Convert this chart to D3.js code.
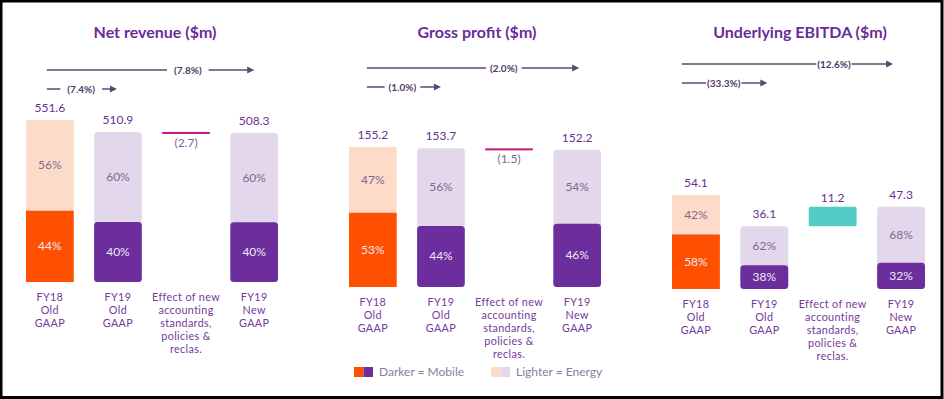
<!DOCTYPE html>
<html>
<head>
<meta charset="utf-8">
<script src="https://cdn.jsdelivr.net/npm/d3@7"></script>
<style>
  html, body { margin: 0; padding: 0; background: #fff; }
  svg { display: block; font-family: Lato, "Open Sans", sans-serif; }
</style>
</head>
<body>
<svg id="chart" width="944" height="399"></svg>
<script>
// ---------------- DATA ----------------
const titles = ["Net revenue ($m)", "Gross profit ($m)", "Underlying EBITDA ($m)"];
const categories = [
  ["FY18", "Old", "GAAP"],
  ["FY19", "Old", "GAAP"],
  ["Effect of new", "accounting", "standards,", "policies &", "reclas."],
  ["FY19", "New", "GAAP"]
];
const fy18Old = [551.6, 155.2, 54.1];
const fy19Old = [510.9, 153.7, 36.1];
const fy19New = [508.3, 152.2, 47.3];
const effect = [-2.7, -1.5, 11.2];
const effectLabels = ["(2.7)", "(1.5)", "11.2"];
const mobileShare = [[44, 40, 40], [53, 44, 46], [58, 38, 32]];
const energyShare = [[56, 60, 60], [47, 56, 54], [42, 62, 68]];
const growthLong = ["(7.8%)", "(2.0%)", "(12.6%)"];
const growthShort = ["(7.4%)", "(1.0%)", "(33.3%)"];
const legendItems = ["Darker = Mobile", "Lighter = Energy"];

// ---------------- STYLE / LAYOUT ----------------
const C = {
  orange: "#fe5000", peach: "#fddbc9",
  purple: "#6c2e9c", lilac: "#e3d7ec",
  teal: "#52ccc6", magenta: "#c2187f",
  title: "#6a2c9a", value: "#6b2f8f", cat: "#74399b",
  pctLight: "#7d6a8f", pctDark: "#efe7f6",
  arrow: "#5e4772", arrowText: "#4f3a66", legend: "#8b7c9b"
};
const panels = [
  { x0: 26, x1: 278, base: 282, top: 120, titleX: 155, yLong: 70, yShort: 89,
    startNudge: -3, endNudge: [0, -1], frac: [0.68, 0.49], pad: 7 },
  { x0: 349, x1: 601, base: 287, top: 147, titleX: 477, yLong: 68, yShort: 87,
    startNudge: -6, endNudge: [2, 0], frac: [0.645, 0.48], pad: 4 },
  { x0: 672, x1: 925, base: 289, top: 195, titleX: 800, yLong: 64, yShort: 83,
    startNudge: -14, endNudge: [-8, 3], frac: [0.72, 0.49], pad: 1 }
];

const svg = d3.select("#chart");

// border frame
svg.append("rect").attr("x", 1).attr("y", 1).attr("width", 941).attr("height", 396.5)
  .attr("fill", "none").attr("stroke", "#000").attr("stroke-width", 3);

panels.forEach((P, pi) => {
  const g = svg.append("g");
  const x = d3.scaleBand().domain(d3.range(categories.length)).range([P.x0, P.x1])
    .paddingInner(0.3).paddingOuter(0);
  const y = d3.scaleLinear().domain([0, fy18Old[pi]]).range([P.base, P.top]);
  const bw = x.bandwidth();
  const cx = i => x(i) + bw / 2;

  // title
  g.append("text").attr("x", P.titleX).attr("y", 38).attr("text-anchor", "middle")
    .attr("font-size", 16).attr("font-weight", 700).attr("fill", C.title)
    .text(titles[pi]);

  // stacked total bars
  const totals = [
    { i: 0, v: fy18Old[pi], s: 0, old: true },
    { i: 1, v: fy19Old[pi], s: 1, old: false },
    { i: 3, v: fy19New[pi], s: 2, old: false }
  ];
  totals.forEach(d => {
    const mob = d.v * mobileShare[pi][d.s] / 100;
    const rx = d.old ? 0 : 3.5;
    g.append("rect").attr("x", x(d.i)).attr("y", y(d.v)).attr("width", bw)
      .attr("height", y(0) - y(d.v)).attr("rx", rx)
      .attr("fill", d.old ? C.peach : C.lilac);
    g.append("rect").attr("x", x(d.i)).attr("y", y(mob)).attr("width", bw)
      .attr("height", y(0) - y(mob)).attr("rx", rx)
      .attr("fill", d.old ? C.orange : C.purple);
    g.append("text").attr("x", cx(d.i)).attr("y", (y(d.v) + y(mob)) / 2 + 4)
      .attr("text-anchor", "middle").attr("font-size", 12).attr("fill", C.pctLight)
      .text(energyShare[pi][d.s] + "%");
    g.append("text").attr("x", cx(d.i)).attr("y", (y(mob) + y(0)) / 2 + 4)
      .attr("text-anchor", "middle").attr("font-size", 12).attr("fill", C.pctDark)
      .text(mobileShare[pi][d.s] + "%");
    g.append("text").attr("x", cx(d.i)).attr("y", y(d.v) - 8)
      .attr("text-anchor", "middle").attr("font-size", 12).attr("fill", C.value)
      .text(d3.format(".1f")(d.v));
  });

  // effect bar
  const a = fy19Old[pi], b = fy19Old[pi] + effect[pi];
  if (effect[pi] < 0) {
    const h = Math.max(2, y(b) - y(a));
    g.append("rect").attr("x", x(2)).attr("y", y(a)).attr("width", bw).attr("height", h)
      .attr("fill", C.magenta);
    g.append("text").attr("x", cx(2)).attr("y", y(a) + h + 13)
      .attr("text-anchor", "middle").attr("font-size", 12).attr("fill", C.pctLight)
      .text(effectLabels[pi]);
  } else {
    g.append("rect").attr("x", x(2)).attr("y", y(b)).attr("width", bw)
      .attr("height", y(a) - y(b)).attr("rx", 1.5).attr("fill", C.teal);
    g.append("text").attr("x", cx(2)).attr("y", y(b) - 5)
      .attr("text-anchor", "middle").attr("font-size", 12).attr("fill", C.value)
      .text(effectLabels[pi]);
  }

  // category labels: one text per line
  categories.forEach((lines, i) => {
    lines.forEach((ln, k) => {
      g.append("text").attr("x", cx(i)).attr("y", P.base + 19 + k * 13)
        .attr("text-anchor", "middle").attr("font-size", 10.8)
        .attr("letter-spacing", 0.35).attr("fill", C.cat).text(ln);
    });
  });

  // growth arrows
  const arrows = [
    { to: 3, label: growthLong[pi], yy: P.yLong, frac: P.frac[0], nudge: P.endNudge[0] },
    { to: 1, label: growthShort[pi], yy: P.yShort, frac: P.frac[1], nudge: P.endNudge[1] }
  ];
  arrows.forEach(ar => {
    const xs = cx(0) + P.startNudge;
    const xe = cx(ar.to) + ar.nudge;
    const lc = xs + (xe - xs) * ar.frac;
    const lbl = g.append("text").attr("x", lc).attr("y", ar.yy + 3.5)
      .attr("text-anchor", "middle").attr("font-size", 10).attr("font-weight", 700)
      .attr("fill", C.arrowText).text(ar.label);
    const w = lbl.node().getComputedTextLength();
    const head = 7;
    g.append("line").attr("x1", xs).attr("x2", lc - w / 2 - P.pad)
      .attr("y1", ar.yy).attr("y2", ar.yy).attr("stroke", C.arrow).attr("stroke-width", 1.5);
    g.append("line").attr("x1", lc + w / 2 + P.pad).attr("x2", xe - head + 1)
      .attr("y1", ar.yy).attr("y2", ar.yy).attr("stroke", C.arrow).attr("stroke-width", 1.5);
    g.append("path")
      .attr("d", `M${xe - head},${ar.yy - 3.5}L${xe},${ar.yy}L${xe - head},${ar.yy + 3.5}Z`)
      .attr("fill", C.arrow);
  });
});

// legend
const lg = svg.append("g");
const legendSw = [[C.orange, C.purple], [C.peach, C.lilac]];
const legendX = [354, 491];
legendItems.forEach((txt, i) => {
  legendSw[i].forEach((col, k) => {
    lg.append("rect").attr("x", legendX[i] + k * 9.5).attr("y", 367).attr("width", 9.5)
      .attr("height", 10).attr("fill", col);
  });
  lg.append("text").attr("x", legendX[i] + 25).attr("y", 376).attr("font-size", 12)
    .attr("fill", C.legend).text(txt);
});
</script>
</body>
</html>
